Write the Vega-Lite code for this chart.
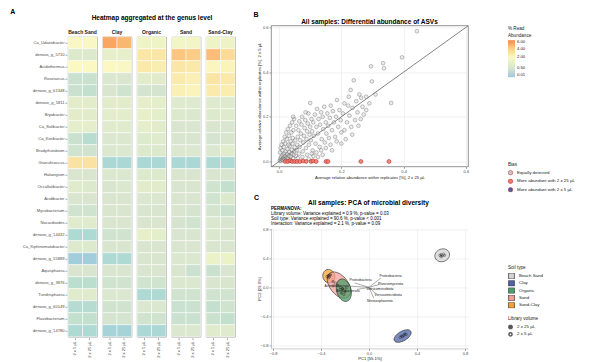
{
"$schema":"https://vega.github.io/schema/vega-lite/v6.json",
"background":"white",
"padding":{"left":10,"top":8,"right":0,"bottom":0},
"config":{
 "font":"Liberation Sans",
 "view":{"stroke":"#8c8c8c","strokeWidth":0.8},
 "axis":{"labelFontSize":4,"labelColor":"#4d4d4d","titleFontSize":4.2,"titleFontWeight":"normal","titleColor":"#1a1a1a","tickSize":2,"tickColor":"#4d4d4d","tickWidth":0.5,"domain":false,"grid":false,"labelPadding":1,"titlePadding":2},
 "legend":{"titleFontSize":4.6,"titleFontWeight":"normal","titleColor":"#1a1a1a","labelFontSize":4.4,"labelColor":"#1a1a1a","titlePadding":3},
 "title":{"fontSize":6.5,"fontWeight":"bold","color":"#000","subtitleColor":"#000"},
 "header":{"titleFontSize":6.5,"titleFontWeight":"bold","titleColor":"#000","labelFontSize":5,"labelFontWeight":"bold","labelColor":"#1a1a1a"}
},
"datasets":{
 "heat":[
  {"g":"Ca_Udaeobacter","s":"Beach Sand","v5":1.9,"v25":1.9},{"g":"Ca_Udaeobacter","s":"Clay","v5":5.4,"v25":4.8},{"g":"Ca_Udaeobacter","s":"Organic","v5":1.5,"v25":1.5},{"g":"Ca_Udaeobacter","s":"Sand","v5":1.6,"v25":1.6},{"g":"Ca_Udaeobacter","s":"Sand-Clay","v5":1.5,"v25":1.4},
  {"g":"denovo_g_5710","s":"Beach Sand","v5":0.7,"v25":0.7},{"g":"denovo_g_5710","s":"Clay","v5":1.1,"v25":1.1},{"g":"denovo_g_5710","s":"Organic","v5":2.8,"v25":2.8},{"g":"denovo_g_5710","s":"Sand","v5":4.3,"v25":4.1},{"g":"denovo_g_5710","s":"Sand-Clay","v5":4.6,"v25":3.4},
  {"g":"Acidothermus","s":"Beach Sand","v5":2.0,"v25":2.0},{"g":"Acidothermus","s":"Clay","v5":2.0,"v25":1.9},{"g":"Acidothermus","s":"Organic","v5":2.7,"v25":2.5},{"g":"Acidothermus","s":"Sand","v5":2.8,"v25":2.7},{"g":"Acidothermus","s":"Sand-Clay","v5":2.1,"v25":2.2},
  {"g":"Roseiarcus","s":"Beach Sand","v5":0.35,"v25":0.35},{"g":"Roseiarcus","s":"Clay","v5":0.6,"v25":0.55},{"g":"Roseiarcus","s":"Organic","v5":0.9,"v25":0.9},{"g":"Roseiarcus","s":"Sand","v5":2.6,"v25":2.4},{"g":"Roseiarcus","s":"Sand-Clay","v5":2.9,"v25":2.7},
  {"g":"denovo_g_61348","s":"Beach Sand","v5":0.35,"v25":0.3},{"g":"denovo_g_61348","s":"Clay","v5":0.5,"v25":0.4},{"g":"denovo_g_61348","s":"Organic","v5":0.45,"v25":0.45},{"g":"denovo_g_61348","s":"Sand","v5":2.4,"v25":2.2},{"g":"denovo_g_61348","s":"Sand-Clay","v5":2.6,"v25":2.5},
  {"g":"denovo_g_5811","s":"Beach Sand","v5":0.9,"v25":0.9},{"g":"denovo_g_5811","s":"Clay","v5":0.9,"v25":0.9},{"g":"denovo_g_5811","s":"Organic","v5":1.0,"v25":1.0},{"g":"denovo_g_5811","s":"Sand","v5":0.75,"v25":0.75},{"g":"denovo_g_5811","s":"Sand-Clay","v5":0.75,"v25":0.75},
  {"g":"Bryobacter","s":"Beach Sand","v5":0.9,"v25":0.9},{"g":"Bryobacter","s":"Clay","v5":0.95,"v25":0.95},{"g":"Bryobacter","s":"Organic","v5":1.1,"v25":1.0},{"g":"Bryobacter","s":"Sand","v5":0.7,"v25":0.65},{"g":"Bryobacter","s":"Sand-Clay","v5":0.7,"v25":0.8},
  {"g":"Ca_Solibacter","s":"Beach Sand","v5":1.0,"v25":1.0},{"g":"Ca_Solibacter","s":"Clay","v5":0.8,"v25":0.8},{"g":"Ca_Solibacter","s":"Organic","v5":1.0,"v25":0.9},{"g":"Ca_Solibacter","s":"Sand","v5":0.5,"v25":0.55},{"g":"Ca_Solibacter","s":"Sand-Clay","v5":0.5,"v25":0.55},
  {"g":"Ca_Koribacter","s":"Beach Sand","v5":0.35,"v25":0.22},{"g":"Ca_Koribacter","s":"Clay","v5":0.6,"v25":0.6},{"g":"Ca_Koribacter","s":"Organic","v5":0.75,"v25":0.8},{"g":"Ca_Koribacter","s":"Sand","v5":0.5,"v25":0.5},{"g":"Ca_Koribacter","s":"Sand-Clay","v5":0.45,"v25":0.5},
  {"g":"Bradyrhizobium","s":"Beach Sand","v5":0.4,"v25":0.4},{"g":"Bradyrhizobium","s":"Clay","v5":0.6,"v25":0.6},{"g":"Bradyrhizobium","s":"Organic","v5":0.7,"v25":0.7},{"g":"Bradyrhizobium","s":"Sand","v5":0.6,"v25":0.6},{"g":"Bradyrhizobium","s":"Sand-Clay","v5":0.6,"v25":0.85},
  {"g":"Granulicoccus","s":"Beach Sand","v5":3.0,"v25":3.0},{"g":"Granulicoccus","s":"Clay","v5":0.12,"v25":0.12},{"g":"Granulicoccus","s":"Organic","v5":0.12,"v25":0.12},{"g":"Granulicoccus","s":"Sand","v5":0.12,"v25":0.12},{"g":"Granulicoccus","s":"Sand-Clay","v5":0.15,"v25":0.15},
  {"g":"Haliangium","s":"Beach Sand","v5":0.5,"v25":0.5},{"g":"Haliangium","s":"Clay","v5":0.6,"v25":0.6},{"g":"Haliangium","s":"Organic","v5":0.7,"v25":0.7},{"g":"Haliangium","s":"Sand","v5":0.5,"v25":0.5},{"g":"Haliangium","s":"Sand-Clay","v5":0.5,"v25":0.5},
  {"g":"Occallatibacter","s":"Beach Sand","v5":0.8,"v25":0.7},{"g":"Occallatibacter","s":"Clay","v5":0.5,"v25":0.6},{"g":"Occallatibacter","s":"Organic","v5":0.9,"v25":0.9},{"g":"Occallatibacter","s":"Sand","v5":0.5,"v25":0.5},{"g":"Occallatibacter","s":"Sand-Clay","v5":0.4,"v25":0.3},
  {"g":"Acidibacter","s":"Beach Sand","v5":0.5,"v25":0.5},{"g":"Acidibacter","s":"Clay","v5":0.5,"v25":0.5},{"g":"Acidibacter","s":"Organic","v5":0.6,"v25":0.6},{"g":"Acidibacter","s":"Sand","v5":0.5,"v25":0.5},{"g":"Acidibacter","s":"Sand-Clay","v5":0.4,"v25":0.7},
  {"g":"Mycobacterium","s":"Beach Sand","v5":0.4,"v25":0.4},{"g":"Mycobacterium","s":"Clay","v5":0.5,"v25":0.5},{"g":"Mycobacterium","s":"Organic","v5":0.5,"v25":0.5},{"g":"Mycobacterium","s":"Sand","v5":0.5,"v25":0.45},{"g":"Mycobacterium","s":"Sand-Clay","v5":0.45,"v25":0.35},
  {"g":"Nocardioides","s":"Beach Sand","v5":0.8,"v25":0.8},{"g":"Nocardioides","s":"Clay","v5":0.5,"v25":0.5},{"g":"Nocardioides","s":"Organic","v5":0.5,"v25":0.5},{"g":"Nocardioides","s":"Sand","v5":0.45,"v25":0.4},{"g":"Nocardioides","s":"Sand-Clay","v5":0.6,"v25":0.5},
  {"g":"denovo_g_14432","s":"Beach Sand","v5":0.15,"v25":0.15},{"g":"denovo_g_14432","s":"Clay","v5":0.4,"v25":0.4},{"g":"denovo_g_14432","s":"Organic","v5":1.1,"v25":1.0},{"g":"denovo_g_14432","s":"Sand","v5":0.5,"v25":0.5},{"g":"denovo_g_14432","s":"Sand-Clay","v5":0.6,"v25":0.5},
  {"g":"Ca_Xiphinematobacter","s":"Beach Sand","v5":0.7,"v25":0.7},{"g":"Ca_Xiphinematobacter","s":"Clay","v5":0.5,"v25":0.5},{"g":"Ca_Xiphinematobacter","s":"Organic","v5":0.5,"v25":0.5},{"g":"Ca_Xiphinematobacter","s":"Sand","v5":0.5,"v25":0.5},{"g":"Ca_Xiphinematobacter","s":"Sand-Clay","v5":0.5,"v25":0.5},
  {"g":"denovo_g_55889","s":"Beach Sand","v5":0.04,"v25":0.04},{"g":"denovo_g_55889","s":"Clay","v5":0.15,"v25":0.15},{"g":"denovo_g_55889","s":"Organic","v5":0.5,"v25":0.5},{"g":"denovo_g_55889","s":"Sand","v5":0.6,"v25":0.6},{"g":"denovo_g_55889","s":"Sand-Clay","v5":1.3,"v25":1.3},
  {"g":"Aquisphaera","s":"Beach Sand","v5":0.5,"v25":0.5},{"g":"Aquisphaera","s":"Clay","v5":0.5,"v25":0.5},{"g":"Aquisphaera","s":"Organic","v5":0.5,"v25":0.5},{"g":"Aquisphaera","s":"Sand","v5":0.5,"v25":0.35},{"g":"Aquisphaera","s":"Sand-Clay","v5":0.35,"v25":0.5},
  {"g":"denovo_g_3876","s":"Beach Sand","v5":0.25,"v25":0.25},{"g":"denovo_g_3876","s":"Clay","v5":0.4,"v25":0.4},{"g":"denovo_g_3876","s":"Organic","v5":0.4,"v25":0.4},{"g":"denovo_g_3876","s":"Sand","v5":0.6,"v25":0.6},{"g":"denovo_g_3876","s":"Sand-Clay","v5":0.5,"v25":0.5},
  {"g":"Tundrisphaera","s":"Beach Sand","v5":0.8,"v25":0.8},{"g":"Tundrisphaera","s":"Clay","v5":0.6,"v25":0.6},{"g":"Tundrisphaera","s":"Organic","v5":0.15,"v25":0.15},{"g":"Tundrisphaera","s":"Sand","v5":0.4,"v25":0.4},{"g":"Tundrisphaera","s":"Sand-Clay","v5":0.4,"v25":0.4},
  {"g":"denovo_g_60149","s":"Beach Sand","v5":0.2,"v25":0.2},{"g":"denovo_g_60149","s":"Clay","v5":0.4,"v25":0.4},{"g":"denovo_g_60149","s":"Organic","v5":0.6,"v25":0.6},{"g":"denovo_g_60149","s":"Sand","v5":0.35,"v25":0.35},{"g":"denovo_g_60149","s":"Sand-Clay","v5":0.3,"v25":0.4},
  {"g":"Flavobacterium","s":"Beach Sand","v5":0.3,"v25":0.3},{"g":"Flavobacterium","s":"Clay","v5":0.45,"v25":0.45},{"g":"Flavobacterium","s":"Organic","v5":0.4,"v25":0.4},{"g":"Flavobacterium","s":"Sand","v5":0.35,"v25":0.35},{"g":"Flavobacterium","s":"Sand-Clay","v5":0.35,"v25":0.3},
  {"g":"denovo_g_14780","s":"Beach Sand","v5":0.15,"v25":0.15},{"g":"denovo_g_14780","s":"Clay","v5":0.08,"v25":0.08},{"g":"denovo_g_14780","s":"Organic","v5":0.12,"v25":0.12},{"g":"denovo_g_14780","s":"Sand","v5":0.6,"v25":0.6},{"g":"denovo_g_14780","s":"Sand-Clay","v5":0.8,"v25":0.8}
 ],
 "gray":[
  {"x":0.002,"y":0.004},{"x":0.004,"y":0.012},{"x":0.006,"y":0.003},{"x":0.007,"y":0.02},{"x":0.009,"y":0.009},{"x":0.011,"y":0.028},{"x":0.012,"y":0.006},{"x":0.014,"y":0.016},{"x":0.016,"y":0.035},{"x":0.017,"y":0.01},
  {"x":0.019,"y":0.024},{"x":0.021,"y":0.045},{"x":0.022,"y":0.005},{"x":0.024,"y":0.018},{"x":0.026,"y":0.032},{"x":0.027,"y":0.055},{"x":0.029,"y":0.012},{"x":0.031,"y":0.026},{"x":0.033,"y":0.042},{"x":0.034,"y":0.068},
  {"x":0.036,"y":0.008},{"x":0.038,"y":0.022},{"x":0.04,"y":0.036},{"x":0.041,"y":0.052},{"x":0.043,"y":0.08},{"x":0.045,"y":0.015},{"x":0.047,"y":0.03},{"x":0.049,"y":0.046},{"x":0.05,"y":0.064},{"x":0.052,"y":0.095},
  {"x":0.003,"y":0.04},{"x":0.005,"y":0.06},{"x":0.008,"y":0.075},{"x":0.01,"y":0.05},{"x":0.013,"y":0.09},{"x":0.015,"y":0.065},{"x":0.018,"y":0.11},{"x":0.02,"y":0.08},{"x":0.023,"y":0.13},{"x":0.025,"y":0.1},
  {"x":0.028,"y":0.145},{"x":0.03,"y":0.075},{"x":0.032,"y":0.115},{"x":0.035,"y":0.16},{"x":0.037,"y":0.09},{"x":0.039,"y":0.13},{"x":0.042,"y":0.175},{"x":0.044,"y":0.105},{"x":0.046,"y":0.14},{"x":0.048,"y":0.19},
  {"x":0.054,"y":0.025},{"x":0.056,"y":0.05},{"x":0.058,"y":0.075},{"x":0.06,"y":0.11},{"x":0.062,"y":0.14},{"x":0.064,"y":0.035},{"x":0.066,"y":0.065},{"x":0.068,"y":0.095},{"x":0.07,"y":0.125},{"x":0.072,"y":0.165},
  {"x":0.074,"y":0.2},{"x":0.076,"y":0.045},{"x":0.078,"y":0.085},{"x":0.08,"y":0.115},{"x":0.082,"y":0.15},{"x":0.084,"y":0.185},{"x":0.086,"y":0.06},{"x":0.088,"y":0.1},{"x":0.09,"y":0.135},{"x":0.092,"y":0.17},
  {"x":0.094,"y":0.215},{"x":0.096,"y":0.075},{"x":0.098,"y":0.12},{"x":0.1,"y":0.155},{"x":0.102,"y":0.095},{"x":0.104,"y":0.19},{"x":0.106,"y":0.135},{"x":0.108,"y":0.05},{"x":0.11,"y":0.175},{"x":0.112,"y":0.115},
  {"x":0.115,"y":0.21},{"x":0.117,"y":0.08},{"x":0.12,"y":0.155},{"x":0.122,"y":0.235},{"x":0.125,"y":0.125},{"x":0.127,"y":0.19},{"x":0.13,"y":0.065},{"x":0.132,"y":0.165},{"x":0.135,"y":0.22},{"x":0.137,"y":0.1},
  {"x":0.14,"y":0.2},{"x":0.142,"y":0.145},{"x":0.145,"y":0.245},{"x":0.147,"y":0.085},{"x":0.15,"y":0.175},{"x":0.152,"y":0.125},{"x":0.155,"y":0.215},{"x":0.158,"y":0.16},{"x":0.16,"y":0.105},{"x":0.163,"y":0.195},
  {"x":0.166,"y":0.25},{"x":0.17,"y":0.14},{"x":0.173,"y":0.225},{"x":0.176,"y":0.175},{"x":0.18,"y":0.11},{"x":0.183,"y":0.2},{"x":0.186,"y":0.275},{"x":0.19,"y":0.155},{"x":0.194,"y":0.23},{"x":0.198,"y":0.185},
  {"x":0.2,"y":0.13},{"x":0.205,"y":0.215},{"x":0.21,"y":0.26},{"x":0.214,"y":0.1},{"x":0.218,"y":0.175},{"x":0.222,"y":0.25},{"x":0.224,"y":0.29},{"x":0.226,"y":0.205},{"x":0.23,"y":0.32},{"x":0.232,"y":0.155},
  {"x":0.236,"y":0.24},{"x":0.24,"y":0.363},{"x":0.244,"y":0.185},{"x":0.248,"y":0.27},{"x":0.252,"y":0.22},{"x":0.258,"y":0.3},{"x":0.262,"y":0.19},{"x":0.264,"y":0.285},{"x":0.268,"y":0.245},{"x":0.272,"y":0.21},
  {"x":0.28,"y":0.29},{"x":0.29,"y":0.26},{"x":0.298,"y":0.358},{"x":0.295,"y":0.426},{"x":0.31,"y":0.3},{"x":0.334,"y":0.44},{"x":0.337,"y":0.417},{"x":0.36,"y":0.262},{"x":0.395,"y":0.466},{"x":0.443,"y":0.583},
  {"x":0.1,"y":0.262},{"x":0.065,"y":0.18},{"x":0.055,"y":0.16},{"x":0.045,"y":0.2},{"x":0.085,"y":0.22},
  {"x":0.06,"y":0.015},{"x":0.075,"y":0.02},{"x":0.09,"y":0.03},{"x":0.105,"y":0.035},{"x":0.12,"y":0.04},{"x":0.135,"y":0.05},{"x":0.15,"y":0.06},{"x":0.165,"y":0.075},{"x":0.185,"y":0.09},{"x":0.21,"y":0.14},
  {"x":0.235,"y":0.12},{"x":0.14,"y":0.03},{"x":0.125,"y":0.02},{"x":0.095,"y":0.012},{"x":0.17,"y":0.05},{"x":0.2,"y":0.08},{"x":0.255,"y":0.16},{"x":0.28,"y":0.23},{"x":0.11,"y":0.025}
 ],
 "red":[
  {"x":0.02,"y":0},{"x":0.028,"y":0},{"x":0.035,"y":0.003},{"x":0.042,"y":0},{"x":0.05,"y":0},{"x":0.058,"y":0},{"x":0.067,"y":0},{"x":0.077,"y":0.002},
  {"x":0.087,"y":0},{"x":0.103,"y":0},{"x":0.109,"y":0.003},{"x":0.119,"y":0},{"x":0.151,"y":0},{"x":0.157,"y":0},{"x":0.263,"y":0},{"x":0.353,"y":0}
 ],
 "pca":[
  {"soil":"Beach Sand","vol":"2 x 25 µL","x":0.6,"y":0.45},{"soil":"Beach Sand","vol":"2 x 25 µL","x":0.63,"y":0.44},{"soil":"Beach Sand","vol":"2 x 25 µL","x":0.61,"y":0.43},
  {"soil":"Beach Sand","vol":"2 x 5 µL","x":0.59,"y":0.44},{"soil":"Beach Sand","vol":"2 x 5 µL","x":0.62,"y":0.46},{"soil":"Beach Sand","vol":"2 x 5 µL","x":0.6,"y":0.42},
  {"soil":"Clay","vol":"2 x 25 µL","x":0.27,"y":-0.67},{"soil":"Clay","vol":"2 x 25 µL","x":0.29,"y":-0.66},{"soil":"Clay","vol":"2 x 25 µL","x":0.3,"y":-0.64},
  {"soil":"Clay","vol":"2 x 5 µL","x":0.26,"y":-0.69},{"soil":"Clay","vol":"2 x 5 µL","x":0.28,"y":-0.68},{"soil":"Clay","vol":"2 x 5 µL","x":0.31,"y":-0.65},
  {"soil":"Organic","vol":"2 x 25 µL","x":-0.22,"y":-0.02},{"soil":"Organic","vol":"2 x 25 µL","x":-0.2,"y":-0.06},{"soil":"Organic","vol":"2 x 25 µL","x":-0.23,"y":-0.08},
  {"soil":"Organic","vol":"2 x 5 µL","x":-0.19,"y":-0.01},{"soil":"Organic","vol":"2 x 5 µL","x":-0.21,"y":-0.1},{"soil":"Organic","vol":"2 x 5 µL","x":-0.24,"y":-0.03},
  {"soil":"Sand","vol":"2 x 25 µL","x":-0.3,"y":0.08},{"soil":"Sand","vol":"2 x 25 µL","x":-0.26,"y":0.03},{"soil":"Sand","vol":"2 x 25 µL","x":-0.22,"y":-0.02},
  {"soil":"Sand","vol":"2 x 5 µL","x":-0.28,"y":0.06},{"soil":"Sand","vol":"2 x 5 µL","x":-0.24,"y":0.0},{"soil":"Sand","vol":"2 x 5 µL","x":-0.3,"y":0.02},
  {"soil":"Sand-Clay","vol":"2 x 25 µL","x":-0.34,"y":0.16},{"soil":"Sand-Clay","vol":"2 x 25 µL","x":-0.33,"y":0.14},{"soil":"Sand-Clay","vol":"2 x 25 µL","x":-0.32,"y":0.17},
  {"soil":"Sand-Clay","vol":"2 x 5 µL","x":-0.35,"y":0.15},{"soil":"Sand-Clay","vol":"2 x 5 µL","x":-0.33,"y":0.17},{"soil":"Sand-Clay","vol":"2 x 5 µL","x":-0.34,"y":0.13}
 ],
 "load":[
  {"n":"Proteobacteria","x":0.1,"y":0.13,"lx":0.18,"ly":0.155},
  {"n":"Planctomycetota","x":0.09,"y":0.04,"lx":0.18,"ly":0.045},
  {"n":"Verrucomicrobiota","x":0.02,"y":-0.02,"lx":0.09,"ly":-0.03},
  {"n":"Verrucomicrobiota","x":0.06,"y":-0.09,"lx":0.16,"ly":-0.105},
  {"n":"Nitrososphaerota","x":0.04,"y":-0.15,"lx":0.09,"ly":-0.19},
  {"n":"Proteobacteria","x":-0.12,"y":0.06,"lx":-0.07,"ly":0.1},
  {"n":"Actinobacteriota","x":-0.2,"y":0.02,"lx":-0.27,"ly":0.02},
  {"n":"Acidobacteriota","x":-0.1,"y":-0.03,"lx":-0.175,"ly":-0.045}
 ]
},
"spacing":17,
"center":true,
"resolve":{"scale":{"fill":"independent","shape":"independent"},"legend":{"fill":"independent","shape":"independent"}},
"hconcat":[
 {
  "title":{"text":"A","anchor":"start","fontSize":7,"dx":-12,"offset":0},
  "data":{"name":"heat"},
  "transform":[{"fold":["v5","v25"],"as":["vol","a"]}],
  "facet":{"column":{"field":"s","type":"nominal","sort":["Beach Sand","Clay","Organic","Sand","Sand-Clay"],"header":{"title":"Heatmap aggregated at the genus level","titlePadding":-2,"labelPadding":1}}},
  "spacing":3.5,
  "spec":{
   "width":29,"height":300,
   "mark":{"type":"rect","stroke":"white","strokeWidth":0.5},
   "encoding":{
    "x":{"field":"vol","type":"nominal","sort":["v5","v25"],"axis":{"title":null,"labelAngle":-90,"labelExpr":"datum.value == 'v5' ? '2 x 5 µL' : '2 x 25 µL'"}},
    "y":{"field":"g","type":"nominal","sort":["Ca_Udaeobacter","denovo_g_5710","Acidothermus","Roseiarcus","denovo_g_61348","denovo_g_5811","Bryobacter","Ca_Solibacter","Ca_Koribacter","Bradyrhizobium","Granulicoccus","Haliangium","Occallatibacter","Acidibacter","Mycobacterium","Nocardioides","denovo_g_14432","Ca_Xiphinematobacter","denovo_g_55889","Aquisphaera","denovo_g_3876","Tundrisphaera","denovo_g_60149","Flavobacterium","denovo_g_14780"],"axis":{"title":null,"labelFontSize":4.1}},
    "color":{"field":"a","type":"quantitative","scale":{"type":"sqrt","domain":[0.01,0.5,2,4,6.5],"range":["#a2c7df","#d9e5cf","#fbf8c2","#fdcf8a","#f5874f"]},
      "legend":{"title":["% Read","Abundance"],"orient":"none","legendX":440,"legendY":1,"values":[0.01,0.5,2,4,6],"format":".2f","gradientLength":37,"gradientThickness":7,"direction":"vertical","labelFontSize":4.2}}
   }
  }
 },
 {
  "spacing":0,
  "resolve":{"scale":{"fill":"independent","shape":"independent"},"legend":{"fill":"independent","shape":"independent"}},
  "vconcat":[
   {
    "title":{"text":"B","anchor":"start","fontSize":7,"offset":1,"dx":-3},
    "vconcat":[
     {
      "width":197,"height":141,
      "title":{"text":"All samples: Differential abundance of ASVs","anchor":"middle","frame":"group","offset":0},
      "view":{"stroke":"#777"},
      "layer":[
       {"data":{"values":[{"x":-0.03,"y":-0.03},{"x":0.62,"y":0.62}]},
        "mark":{"type":"line","color":"#333","strokeWidth":0.6,"clip":true},
        "encoding":{
         "x":{"field":"x","type":"quantitative","scale":{"domain":[-0.026,0.607],"nice":false,"zero":false},"axis":{"title":"Average relative abundance within replicates [%], 2 x 25 µL","values":[0,0.2,0.4,0.6],"format":".1f","grid":true,"gridColor":"#e5e5e5","gridWidth":0.5}},
         "y":{"field":"y","type":"quantitative","scale":{"domain":[-0.022,0.609],"nice":false,"zero":false},"axis":{"title":"Average relative abundance within replicates [%], 2 x 5 µL","values":[0,0.2,0.4,0.6],"format":".1f","grid":true,"gridColor":"#e5e5e5","gridWidth":0.5,"minExtent":8,"maxExtent":8}}
        }},
       {"data":{"name":"gray"},
        "mark":{"type":"point","filled":true,"size":14,"fillOpacity":0.35,"stroke":"#555","strokeOpacity":0.7,"strokeWidth":0.5},
        "encoding":{
         "x":{"field":"x","type":"quantitative"},
         "y":{"field":"y","type":"quantitative"},
         "fill":{"datum":"Equally detected","type":"nominal","scale":{"domain":["Equally detected","More abundant with 2 x 25 µL","More abundant with 2 x 5 µL"],"range":["#c8c8c8","#ef7b6b","#4a5fa8"]},
          "legend":{"title":"Bias","orient":"none","legendX":237,"legendY":137,"symbolType":"circle","symbolSize":20,"symbolStrokeColor":"#555","symbolStrokeWidth":0.5,"symbolOpacity":1,"rowPadding":1.5,"clipHeight":5.5}}
        }},
       {"data":{"name":"red"},
        "mark":{"type":"point","filled":true,"size":16,"fillOpacity":0.9,"stroke":"#b22222","strokeWidth":0.5},
        "encoding":{
         "x":{"field":"x","type":"quantitative"},
         "y":{"field":"y","type":"quantitative"},
         "fill":{"datum":"More abundant with 2 x 25 µL","type":"nominal"}
        }}
      ]
     }
    ]
   },
   {
    "title":{"text":"C","anchor":"start","fontSize":7,"offset":-1,"dx":-3},
    "vconcat":[
     {
      "title":{"text":"All samples: PCA of microbial diversity","anchor":"start","dx":51,"offset":0},
      "vconcat":[
       {
        "width":197,"height":120,
        "title":{"text":"PERMANOVA:","subtitle":["Library volume: Variance explained = 0.9 %, p-value = 0.03","Soil type: Variance explained = 90.6 %, p-value < 0.001","Interaction: Variance explained = 2.1 %, p-value = 0.09"],"anchor":"start","frame":"group","fontSize":4.5,"subtitleFontSize":4.5,"subtitlePadding":0,"subtitleLineHeight":5,"offset":2},
        "view":{"stroke":null},
        "encoding":{
         "x":{"type":"quantitative","scale":{"domain":[-0.817,0.825],"nice":false,"zero":false},"axis":{"title":["PC1 [55.1%]"," "],"titleLineHeight":8,"values":[-0.8,-0.4,0,0.4,0.8],"format":".1f","grid":true,"gridColor":"#e5e5e5","gridWidth":0.5,"domain":true,"domainColor":"#aaa","domainWidth":0.6,"titlePadding":1}},
         "y":{"type":"quantitative","scale":{"domain":[-0.84,0.81],"nice":false,"zero":false},"axis":{"title":"PC2 [29.9%]","values":[-0.8,-0.4,0,0.4,0.8],"format":".1f","grid":true,"gridColor":"#e5e5e5","gridWidth":0.5,"domain":true,"domainColor":"#aaa","domainWidth":0.6,"minExtent":8,"maxExtent":8}}
        },
        "layer":[
         {"data":{"values":[{"soil":"Beach Sand","x":0.61,"y":0.44}]},
          "mark":{"type":"point","filled":true,"size":4,"shape":"M7.05,-2.57A7.5,6.3,-20,1,1,-7.05,2.57A7.5,6.3,-20,1,1,7.05,-2.57Z","stroke":"#262626","strokeWidth":0.6,"fillOpacity":0.75,"opacity":1},
          "encoding":{"x":{"field":"x"},"y":{"field":"y"},
           "fill":{"field":"soil","type":"nominal","scale":{"domain":["Beach Sand","Clay","Organic","Sand","Sand-Clay"],"range":["#d4d4d4","#4f63a5","#4e9e6a","#f4a09c","#f2a437"]},
            "legend":{"title":"Soil type","orient":"none","legendX":237,"legendY":37,"symbolType":"square","symbolSize":34,"symbolStrokeColor":"#333","symbolStrokeWidth":0.7,"rowPadding":1.3,"clipHeight":6}}}},
         {"data":{"values":[{"soil":"Clay","x":0.28,"y":-0.67}]},
          "mark":{"type":"point","filled":true,"size":4,"shape":"M8.23,-4.75A9.5,4.8,-30,1,1,-8.23,4.75A9.5,4.8,-30,1,1,8.23,-4.75Z","stroke":"#262626","strokeWidth":0.6,"fillOpacity":0.75,"opacity":1},
          "encoding":{"x":{"field":"x"},"y":{"field":"y"},"fill":{"field":"soil","type":"nominal"}}},
         {"data":{"values":[{"soil":"Sand-Clay","x":-0.335,"y":0.153}]},
          "mark":{"type":"point","filled":true,"size":4,"shape":"M1.76,6.57A6.8,6,75,1,1,-1.76,-6.57A6.8,6,75,1,1,1.76,6.57Z","stroke":"#262626","strokeWidth":0.6,"fillOpacity":0.75,"opacity":1},
          "encoding":{"x":{"field":"x"},"y":{"field":"y"},"fill":{"field":"soil","type":"nominal"}}},
         {"data":{"values":[{"soil":"Sand","x":-0.25,"y":0.03}]},
          "mark":{"type":"point","filled":true,"size":4,"shape":"M9.23,11.82A15,9,52,1,1,-9.23,-11.82A15,9,52,1,1,9.23,11.82Z","stroke":"#262626","strokeWidth":0.6,"fillOpacity":0.75,"opacity":1},
          "encoding":{"x":{"field":"x"},"y":{"field":"y"},"fill":{"field":"soil","type":"nominal"}}},
         {"data":{"values":[{"soil":"Organic","x":-0.21,"y":-0.04}]},
          "mark":{"type":"point","filled":true,"size":4,"shape":"M2.98,11.11A11.5,7.2,75,1,1,-2.98,-11.11A11.5,7.2,75,1,1,2.98,11.11Z","stroke":"#262626","strokeWidth":0.6,"fillOpacity":0.75,"opacity":1},
          "encoding":{"x":{"field":"x"},"y":{"field":"y"},"fill":{"field":"soil","type":"nominal"}}},
         {"data":{"name":"load"},
          "mark":{"type":"rule","color":"#8a8a8a","strokeWidth":0.7},
          "encoding":{"x":{"field":"x"},"y":{"field":"y"},"x2":{"datum":0},"y2":{"datum":0}}},
         {"data":{"name":"load"},
          "mark":{"type":"text","fontSize":3.4,"color":"#222"},
          "encoding":{"x":{"field":"lx"},"y":{"field":"ly"},"text":{"field":"n"}}},
         {"data":{"name":"pca"},
          "mark":{"type":"point","filled":false,"size":5,"strokeWidth":0.5,"color":"#111"},
          "encoding":{"x":{"field":"x"},"y":{"field":"y"},
           "shape":{"field":"vol","type":"nominal","scale":{"domain":["2 x 25 µL","2 x 5 µL"],"range":["cross","circle"]},
            "legend":{"title":"Library volume","orient":"none","legendX":237,"legendY":88,"symbolSize":10,"symbolStrokeColor":"#111","rowPadding":1.3,"clipHeight":6}}}}
        ]
       }
      ]
     }
    ]
   }
  ]
 }
]
}
